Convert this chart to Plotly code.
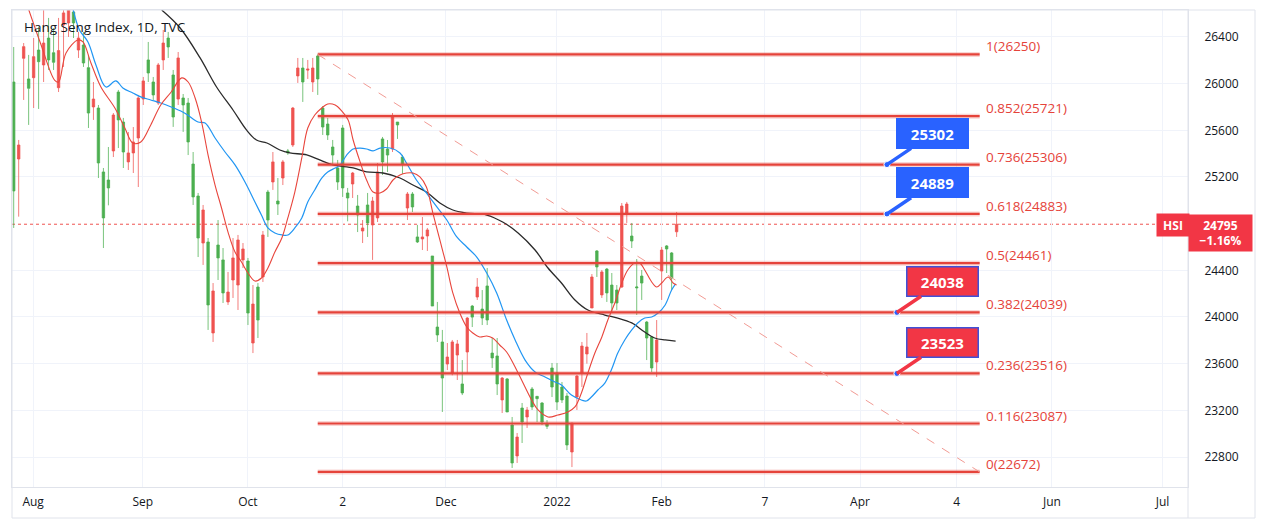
import plotly.graph_objects as go

# ---------------- data ----------------
bar_open = [25080, 25474, 26317, 25960, 26231, 26188, 26348, 26203, 26183, 26283,
            26606, 26631, 26520, 26391, 26177, 25748, 25868, 25320, 24849, 25106,
            25731, 25689, 25414, 25406, 25500, 25877, 26023, 26091, 25903, 26160,
            26348, 26314, 25714, 26220, 25817, 25500, 25029, 24677, 24917, 24103,
            24223, 24506, 24206, 24214, 24506, 24660, 24583, 24034, 24111, 23974,
            24703, 24831, 25329, 24968, 25329, 25406, 25791, 26134, 26014, 26126,
            26134, 26040, 25628, 25560, 25388, 25157, 25106, 25020, 25234, 24874,
            24763, 24806, 24994, 25243, 25329, 25388, 25714, 25646, 25311, 25054,
            24943, 24643, 24686, 24746, 24094, 23846, 23477, 23657, 23786, 23769,
            23349, 23991, 23999, 24257, 23991, 23974, 23649, 23426, 23477, 23186,
            22749, 22971, 23100, 23203, 23229, 23300, 23100, 23063, 23400, 23271,
            23289, 22903, 23091, 23494, 23751, 23743, 24343, 24429, 24386, 24206,
            24120, 24120, 24951, 24968, 24651, 24249, 24291, 23820, 23563, 23803,
            24574, 24583, 24334, 24795]
bar_high = [26314, 25517, 26348, 26246, 26391, 26488, 26648, 26563, 26477, 26563,
            26631, 26700, 26700, 26443, 26443, 26246, 26014, 25817, 25277, 25457,
            25748, 25946, 25706, 25586, 25628, 25903, 26057, 26357, 26057, 26177,
            26460, 26443, 26117, 26271, 25911, 25877, 25414, 25063, 24960, 24677,
            24291, 24831, 24591, 24386, 24677, 24703, 24634, 24506, 24274, 24291,
            24737, 25089, 25414, 25191, 25346, 25440, 25800, 26220, 26220, 26203,
            26220, 26250, 25808, 25706, 25517, 25346, 25646, 25106, 25243, 25046,
            24831, 25063, 25029, 25320, 25543, 25517, 25748, 25671, 25389, 25071,
            25071, 24789, 24857, 24763, 24523, 24129, 23889, 23777, 23803, 23803,
            23631, 24000, 24103, 24334, 24231, 24420, 23820, 23820, 23486, 23477,
            23143, 23006, 23263, 23229, 23400, 23323, 23271, 23117, 23606, 23606,
            23443, 23349, 23091, 23503, 23786, 23863, 24368, 24574, 24403, 24420,
            24377, 24274, 24977, 24986, 24806, 24497, 24403, 23966, 23837, 23974,
            24600, 24617, 24557, 24900]
bar_low = [24763, 24860, 25860, 25646, 25791, 25783, 26014, 26117, 26117, 25928,
           26143, 26400, 26391, 26220, 26143, 25620, 25689, 25191, 24591, 24957,
           25371, 25448, 25277, 25260, 25234, 25114, 25817, 26014, 25860, 25817,
           26117, 26220, 25629, 25817, 25586, 25388, 24960, 24514, 24446, 23889,
           23786, 24317, 24120, 24103, 24163, 24060, 24420, 23931, 23691, 23820,
           24300, 24686, 25089, 24874, 25131, 25390, 25457, 26006, 25843, 26040,
           25928, 25903, 25560, 25517, 25300, 25089, 25029, 24820, 25020, 24728,
           24634, 24686, 24489, 24814, 25217, 25243, 25414, 25526, 25226, 24831,
           24900, 24634, 24574, 24566, 24094, 23786, 23186, 23545, 23500, 23460,
           23331, 23520, 23914, 24146, 23931, 23931, 23563, 23331, 23177, 23186,
           22706, 22749, 22920, 23049, 23203, 23100, 23074, 23040, 23314, 23203,
           23263, 22860, 22714, 23203, 23400, 23600, 24077, 24343, 24163, 24129,
           24034, 24060, 24249, 24806, 24591, 24017, 24146, 23631, 23528, 23486,
           24146, 24377, 24231, 24686]
bar_close = [26014, 25354, 26217, 26040, 26051, 26288, 26160, 26391, 26265, 25965,
             26503, 26520, 26614, 26288, 26331, 26137, 25800, 25791, 25243, 25174,
             25423, 25928, 25671, 25329, 25406, 25534, 25868, 26203, 26014, 25834,
             26203, 26391, 26074, 25868, 25877, 25834, 25311, 25037, 24634, 24643,
             23863, 24617, 24489, 24129, 24317, 24274, 24489, 24480, 23777, 24257,
             24343, 25071, 25157, 24994, 25191, 25423, 25474, 26066, 26134, 26117,
             26014, 26237, 25791, 25654, 25457, 25277, 25620, 25063, 25140, 24951,
             24737, 24960, 24789, 24849, 25526, 25440, 25440, 25671, 25371, 24934,
             25054, 24686, 24669, 24694, 24523, 23914, 23786, 23597, 23520, 23674,
             23426, 23700, 24094, 24171, 24068, 24266, 23691, 23666, 23289, 23469,
             23074, 22809, 23220, 23143, 23383, 23320, 23263, 23083, 23563, 23520,
             23400, 23323, 22843, 23314, 23520, 23683, 24077, 24566, 24189, 24411,
             24274, 24231, 24257, 24891, 24694, 24257, 24351, 23957, 23829, 23614,
             24394, 24609, 24549, 24730]

# moving averages, read as samples (bar index, value)
ma_fast_idx = [2.9, 5.5, 8.2, 9.0, 10.5, 12.9, 13.9, 15.5, 17.5, 20.3, 22.3, 23.9, 25.5, 27.5,
               29.5, 31.6, 33.7, 35.0, 36.4, 37.7, 39.0, 40.4, 41.7, 43.0, 44.4, 45.7, 47.0,
               48.4, 49.7, 51.0, 52.4, 53.8, 55.0, 56.4, 57.8, 59.0, 60.4, 61.8, 63.0, 64.5,
               65.8, 67.1, 68.1, 69.5, 70.8, 72.1, 73.5, 74.8, 76.1, 77.5, 78.8, 80.1, 81.5,
               82.8, 84.1, 85.5, 86.9, 88.1, 89.5, 90.9, 92.1, 93.5, 94.9, 96.1, 97.5, 98.9,
               101.2, 103.9, 105.2, 107.2, 109.2, 111.2, 112.6, 113.9, 115.2, 116.6, 118.0,
               119.2, 120.6, 122.0, 123.2, 124.6, 125.6, 126.6, 128.0, 129.0, 130.0, 131.3,
               132.3, 133.0]
ma_fast_val = [26648, 26331, 26031, 26014, 26263, 26374, 26357, 26177, 25971, 25791, 25620,
               25491, 25500, 25646, 25817, 25928, 26049, 26014, 25877, 25671, 25388, 25131,
               24934, 24728, 24557, 24471, 24377, 24308, 24334, 24420, 24557, 24677, 24849,
               25071, 25363, 25620, 25731, 25791, 25826, 25817, 25766, 25689, 25517, 25329,
               25174, 25071, 25063, 25097, 25174, 25217, 25234, 25234, 25200, 25114, 24891,
               24660, 24429, 24206, 24034, 23914, 23863, 23829, 23837, 23820, 23760, 23700,
               23520, 23289, 23203, 23143, 23160, 23186, 23229, 23349, 23520, 23691, 23829,
               23974, 24120, 24291, 24403, 24463, 24463, 24403, 24300, 24257, 24291, 24343,
               24291, 24274]
ma_mid_idx = [11.9, 13.2, 14.9, 16.5, 18.5, 20.5, 21.9, 23.9, 25.5, 27.5, 29.5, 31.6, 33.9,
              34.9, 37.0, 38.4, 40.4, 42.4, 44.4, 46.4, 48.4, 49.7, 51.0, 52.4, 53.8, 55.0,
              56.4, 57.8, 59.0, 60.4, 61.8, 63.0, 64.5, 65.5, 66.8, 68.1, 69.5, 70.8, 72.1,
              73.5, 75.5, 77.5, 78.8, 80.8, 82.8, 84.9, 86.9, 88.9, 90.9, 92.9, 94.9, 96.9,
              98.9, 100.6, 102.6, 104.6, 106.6, 108.6, 109.9, 111.9, 113.9, 114.9, 115.9,
              117.2, 118.6, 119.9, 121.2, 122.6, 124.0, 125.2, 126.6, 128.0, 129.3, 130.7,
              132.0, 132.8]
ma_mid_val = [26640, 26460, 26357, 26160, 25971, 26023, 25963, 25920, 25886, 25860, 25834,
              25800, 25757, 25731, 25671, 25663, 25534, 25414, 25303, 25157, 24986, 24874,
              24763, 24720, 24703, 24703, 24763, 24849, 24986, 25089, 25191, 25243, 25277,
              25303, 25388, 25440, 25448, 25440, 25423, 25448, 25448, 25406, 25320, 25174,
              25063, 24943, 24831, 24686, 24600, 24514, 24377, 24206, 23974, 23803, 23631,
              23529, 23486, 23443, 23417, 23331, 23289, 23280, 23314, 23374, 23434, 23546,
              23691, 23803, 23889, 23949, 23991, 24000, 24034, 24103, 24231, 24283]
ma_slow_idx = [29.7, 33.4, 37.4, 40.7, 44.0, 46.7, 48.7, 50.8, 53.4, 55.4, 58.8, 61.4, 64.1,
               68.1, 70.8, 74.1, 77.5, 80.1, 82.8, 85.5, 88.1, 90.9, 94.9, 98.1, 101.2,
               104.6, 107.2, 109.9, 112.6, 115.2, 118.6, 121.2, 124.0, 126.6, 128.6, 130.7,
               132.8]
ma_slow_val = [26631, 26477, 26220, 25971, 25774, 25603, 25517, 25491, 25431, 25406, 25389,
               25346, 25303, 25277, 25243, 25234, 25191, 25131, 25071, 24977, 24917, 24891,
               24874, 24814, 24720, 24574, 24420, 24291, 24146, 24060, 24017, 23991, 23949,
               23871, 23820, 23803, 23794]

# Fibonacci retracement
fib_ratio = ["1", "0.852", "0.736", "0.618", "0.5", "0.382", "0.236", "0.116", "0"]
fib_price = [26250, 25721, 25306, 24883, 24461, 24039, 23516, 23087, 22672]

# callouts
callout_text = ["25302", "24889", "24038", "23523"]
callout_level = [25306, 24883, 24039, 23516]

# axis ticks
x_tick_labels = ["Aug", "Sep", "Oct", "2", "Dec", "2022", "Feb", "7", "Apr", "4", "Jun", "Jul"]
y_tick_values = [22800, 23200, 23600, 24000, 24400, 25200, 25600, 26000, 26400]
last_price = 24795
last_change = "−1.16%"
symbol = "HSI"
title_text = "Hang Seng Index, 1D, TVC"

# ---------------- layout constants ----------------
# the page body has an 8px margin, so the figure is shrunk by that amount
PAGE_OFF = 8
W, H = 1269 - PAGE_OFF, 531 - PAGE_OFF
PL, PT = 12, 10            # plot area top-left in page pixels
PW, PH = 1176, 477         # plot area size
L, T = PL - PAGE_OFF, PT - PAGE_OFF
R = W - L - PW
B = H - T - PH
x_tick_pos = [3.9, 25.9, 47.0, 66.0, 86.7, 109.0, 130.0, 150.7, 169.8, 189.2, 208.3, 230.5]
x_range = [-0.34, 235.6]
y_range = [22543, 26631]
fib_x0, fib_x1, fib_lbl_x = 61, 193.8, 194.6
callout_tip_x = [175.2, 175.2, 177.2, 177.2]
callout_fill = ["#2962ff", "#2962ff", "#f23645", "#f23645"]
callout_border = ["#2962ff", "#2962ff", "#3f51d8", "#3f51d8"]

GREEN, RED = "#4caf50", "#ef5350"
FIB = "#e5433a"
FONT = "Open Sans"
TXT = "#131722"


def px(xp):
    return (xp - PL) / PW


def py(yp):
    return (PT + PH - yp) / PH


fig = go.Figure()

fig.add_trace(go.Candlestick(
    x=list(range(len(bar_open))), open=bar_open, high=bar_high, low=bar_low, close=bar_close,
    increasing=dict(line=dict(color="rgba(76,175,80,0.75)", width=1), fillcolor=GREEN),
    decreasing=dict(line=dict(color="rgba(239,83,80,0.75)", width=1), fillcolor=RED),
    whiskerwidth=0, showlegend=False, hoverinfo="skip"))

fig.add_trace(go.Scatter(x=ma_slow_idx, y=ma_slow_val, mode="lines", line=dict(color="#2a2a2a", width=1.3, shape="spline"),
                         showlegend=False, hoverinfo="skip"))
fig.add_trace(go.Scatter(x=ma_mid_idx, y=ma_mid_val, mode="lines", line=dict(color="#2196f3", width=1.2, shape="spline"),
                         showlegend=False, hoverinfo="skip"))
fig.add_trace(go.Scatter(x=ma_fast_idx, y=ma_fast_val, mode="lines", line=dict(color="#e8453c", width=1.1, shape="spline"),
                         showlegend=False, hoverinfo="skip"))

# fib lines
for p in fib_price:
    fig.add_trace(go.Scatter(x=[fib_x0, fib_x1], y=[p, p], mode="lines",
                             line=dict(color="rgba(229,67,58,0.22)", width=5), showlegend=False, hoverinfo="skip"))
    fig.add_trace(go.Scatter(x=[fib_x0, fib_x1], y=[p, p], mode="lines",
                             line=dict(color=FIB, width=2.2), showlegend=False, hoverinfo="skip"))
# diagonal trend line
fig.add_trace(go.Scatter(x=[fib_x0, fib_x1], y=[fib_price[0], fib_price[-1]], mode="lines",
                         line=dict(color="#f29b94", width=1, dash="dash"), showlegend=False, hoverinfo="skip"))

for r, p in zip(fib_ratio, fib_price):
    fig.add_annotation(x=fib_lbl_x, y=p, text=f"{r}({p})", showarrow=False, xanchor="left", yanchor="middle",
                       yshift=8, font=dict(family=FONT, size=13.5, color=FIB))

# last price dotted line
fig.add_shape(type="line", xref="paper", yref="y", x0=0, x1=1, y0=last_price, y1=last_price,
              line=dict(color="#ef5350", width=1, dash="dot"), layer="below")

# callouts
for t, lv, tx, fc, bc in zip(callout_text, callout_level, callout_tip_x, callout_fill, callout_border):
    fig.add_annotation(x=tx, y=lv, ax=46, ay=-31, text=f"<b>{t}</b>", showarrow=True, arrowhead=0,
                       arrowwidth=3.5, arrowcolor=fc, bgcolor=fc, bordercolor=bc, borderwidth=1.5,
                       xanchor="center", yanchor="middle",
                       width=68, height=26, font=dict(family=FONT, size=15, color="white"))
fig.add_trace(go.Scatter(x=callout_tip_x, y=callout_level, mode="markers",
                         marker=dict(size=6, color="#2962ff", line=dict(color="white", width=1)),
                         showlegend=False, hoverinfo="skip"))

# title
fig.add_annotation(xref="paper", yref="paper", x=px(22), y=py(27), text=title_text, showarrow=False,
                   xanchor="left", yanchor="middle", font=dict(family=FONT, size=13.5, color=TXT))

# price label on the right
fig.add_annotation(xref="paper", yref="paper", x=px(1173), y=py(225), text=f"<b>{symbol}</b>", showarrow=False,
                   xanchor="center", yanchor="middle", borderpad=2,
                   bgcolor="#f23645", width=28, height=18, font=dict(family=FONT, size=12, color="white"))
fig.add_annotation(xref="paper", yref="paper", x=px(1220.5), y=py(232.5), text=f"<b>{last_price}<br>{last_change}</b>",
                   showarrow=False, xanchor="center", yanchor="middle", borderpad=2,
                   bgcolor="#f23645", width=59, height=32, align="center",
                   font=dict(family=FONT, size=12, color="white"))

# outer frame and separators
fig.add_shape(type="rect", xref="paper", yref="paper", x0=0, x1=px(1255), y0=py(518), y1=1,
              line=dict(color="#e0e3eb", width=1))
fig.add_shape(type="line", xref="paper", yref="paper", x0=1, x1=1, y0=py(518), y1=1,
              line=dict(color="#e0e3eb", width=1))

fig.update_layout(
    width=W, height=H, margin=dict(l=L, r=R, t=T, b=B, pad=0),
    paper_bgcolor="white", plot_bgcolor="white", hovermode=False, showlegend=False,
    font=dict(family=FONT, size=12, color=TXT),
    xaxis=dict(range=x_range, tickvals=x_tick_pos, ticktext=x_tick_labels, showgrid=True,
               gridcolor="#f0f3fa", zeroline=False, showline=True, linecolor="#e0e3eb", mirror=True,
               ticks="", ticklabelstandoff=4, rangeslider=dict(visible=False), fixedrange=True,
               tickfont=dict(family=FONT, size=12, color=TXT)),
    yaxis=dict(range=y_range, side="right", tickvals=y_tick_values,
               ticktext=[str(v) for v in y_tick_values], showgrid=True,
               gridcolor="#f0f3fa", zeroline=False, showline=True, linecolor="#e0e3eb", mirror=True,
               ticks="", ticklabelstandoff=13, fixedrange=True,
               tickfont=dict(family=FONT, size=12, color=TXT)),
)

fig.write_html("out.html")
